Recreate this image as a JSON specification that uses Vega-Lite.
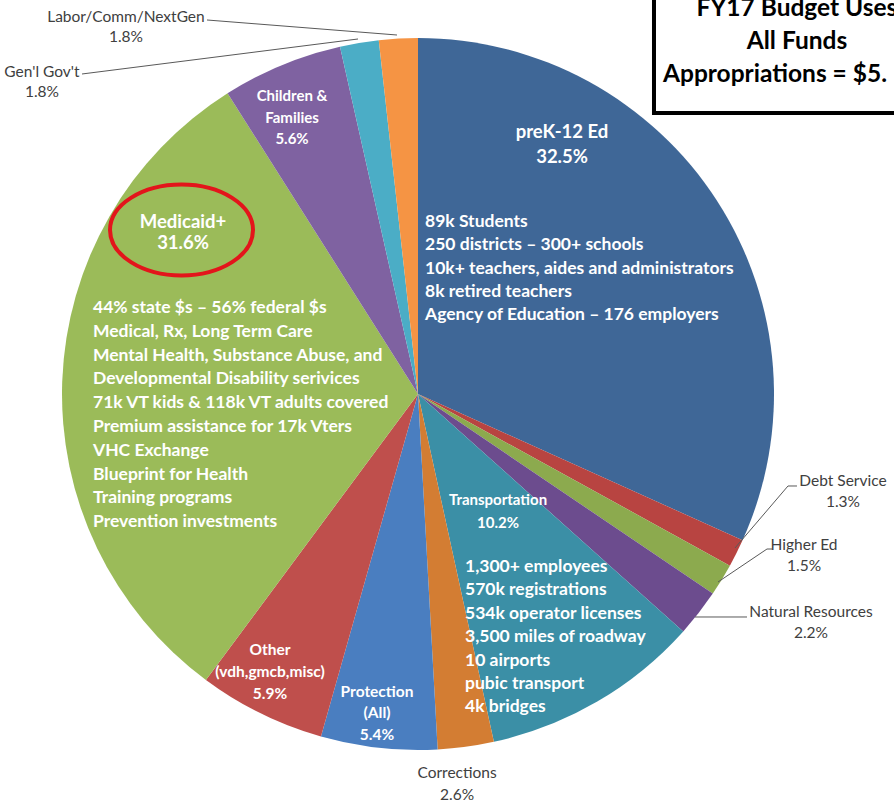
{
  "$schema": "https://vega.github.io/schema/vega-lite/v6.json",
  "width": 836,
  "height": 788,
  "autosize": {"type": "none"},
  "padding": {"left": 0, "top": 0, "right": 58, "bottom": 20},
  "background": "white",
  "config": {"view": {"stroke": null}},
  "layer": [
    {
      "data": {"values": [
        {"item": "preK-12 Ed", "pct": 32.5, "label": "preK-12 Ed\n32.5%", "detail": "89k Students\n250 districts – 300+ schools\n10k+ teachers, aides and administrators\n8k retired teachers\nAgency of Education – 176 employers"},
        {"item": "Debt Service", "pct": 1.3, "label": "Debt Service\n1.3%"},
        {"item": "Higher Ed", "pct": 1.5, "label": "Higher Ed\n1.5%"},
        {"item": "Natural Resources", "pct": 2.2, "label": "Natural Resources\n2.2%"},
        {"item": "Transportation", "pct": 10.2, "label": "Transportation\n10.2%", "detail": "1,300+ employees\n570k registrations\n534k operator licenses\n3,500 miles of roadway\n10 airports\npubic transport\n4k bridges"},
        {"item": "Corrections", "pct": 2.6, "label": "Corrections\n2.6%"},
        {"item": "Protection", "pct": 5.4, "label": "Protection\n(All)\n5.4%"},
        {"item": "Other", "pct": 5.9, "label": "Other\n(vdh,gmcb,misc)\n5.9%"},
        {"item": "Medicaid+", "pct": 31.6, "label": "Medicaid+\n31.6%", "detail": "44% state $s – 56% federal $s\nMedical, Rx, Long Term Care\nMental Health, Substance Abuse, and\nDevelopmental Disability serivices\n71k VT kids & 118k VT adults covered\nPremium assistance for 17k Vters\nVHC Exchange\nBlueprint for Health\nTraining programs\nPrevention investments"},
        {"item": "Children & Families", "pct": 5.6, "label": "Children &\nFamilies\n5.6%"},
        {"item": "Gen'l Gov't", "pct": 1.8, "label": "Gen'l Gov't\n1.8%"},
        {"item": "Labor/Comm/NextGen", "pct": 1.8, "label": "Labor/Comm/NextGen\n1.8%"}
      ]},
      "transform": [{"window": [{"op": "row_number", "as": "rank"}]}],
      "encoding": {
        "theta": {"field": "pct", "type": "quantitative", "stack": true},
        "order": {"field": "rank", "type": "quantitative"},
        "detail": {"field": "item", "type": "nominal"}
      },
      "layer": [
        {
          "mark": {"type": "arc", "outerRadius": 356, "stroke": null},
          "encoding": {
            "color": {"field": "item", "type": "nominal", "legend": null,
              "scale": {
                "domain": ["preK-12 Ed", "Debt Service", "Higher Ed", "Natural Resources", "Transportation", "Corrections", "Protection", "Other", "Medicaid+", "Children & Families", "Gen'l Gov't", "Labor/Comm/NextGen"],
                "range": ["#3F6797", "#B84441", "#8CAA4E", "#6C4C8E", "#3B8FA6", "#D37D33", "#4A7EC0", "#BF4F4C", "#9BBB59", "#7F62A1", "#4BADC6", "#F59444"]
              }}
          }
        },
        {
          "mark": {"type": "text", "radius": 299.0, "thetaOffset": -0.4945, "font": "Lato", "fontWeight": "bold", "fontSize": 18.5, "color": "#FFFFFF", "lineBreak": "\n", "lineHeight": 25, "align": "center", "baseline": "middle"},
          "encoding": {"text": {"condition": {"test": "datum.item === 'preK-12 Ed'", "field": "label"}, "value": ""}}
        },
        {
          "mark": {"type": "text", "radius": 172.1, "thetaOffset": -0.9564, "font": "Lato", "fontWeight": "bold", "fontSize": 17.5, "color": "#FFFFFF", "lineBreak": "\n", "lineHeight": 23.3, "align": "left", "baseline": "middle"},
          "encoding": {"text": {"condition": {"test": "datum.item === 'preK-12 Ed'", "field": "detail"}, "value": ""}}
        },
        {
          "mark": {"type": "text", "radius": 323.5, "thetaOffset": -0.0073, "font": "Lato", "fontWeight": "bold", "fontSize": 15, "color": "#FFFFFF", "lineBreak": "\n", "lineHeight": 21.5, "align": "center", "baseline": "middle"},
          "encoding": {"text": {"condition": {"test": "datum.item === 'Children & Families'", "field": "label"}, "value": ""}}
        },
        {
          "mark": {"type": "text", "radius": 291.2, "thetaOffset": 0.5950, "font": "Lato", "fontWeight": "bold", "fontSize": 18.5, "color": "#FFFFFF", "lineBreak": "\n", "lineHeight": 21, "align": "center", "baseline": "middle"},
          "encoding": {"text": {"condition": {"test": "datum.item === 'Medicaid+'", "field": "label"}, "value": ""}}
        },
        {
          "mark": {"type": "text", "radius": 336.2, "thetaOffset": 0.2218, "font": "Lato", "fontWeight": "bold", "fontSize": 17.5, "color": "#FFFFFF", "lineBreak": "\n", "lineHeight": 23.8, "align": "left", "baseline": "middle"},
          "encoding": {"text": {"condition": {"test": "datum.item === 'Medicaid+'", "field": "detail"}, "value": ""}}
        },
        {
          "mark": {"type": "text", "radius": 132.8, "thetaOffset": -0.1188, "font": "Lato", "fontWeight": "bold", "fontSize": 15, "color": "#FFFFFF", "lineBreak": "\n", "lineHeight": 23, "align": "center", "baseline": "middle"},
          "encoding": {"text": {"condition": {"test": "datum.item === 'Transportation'", "field": "label"}, "value": ""}}
        },
        {
          "mark": {"type": "text", "radius": 179.3, "thetaOffset": 0.2624, "font": "Lato", "fontWeight": "bold", "fontSize": 17.5, "color": "#FFFFFF", "lineBreak": "\n", "lineHeight": 23.4, "align": "left", "baseline": "middle"},
          "encoding": {"text": {"condition": {"test": "datum.item === 'Transportation'", "field": "detail"}, "value": ""}}
        },
        {
          "mark": {"type": "text", "radius": 295.7, "thetaOffset": 0.0670, "font": "Lato", "fontWeight": "bold", "fontSize": 15.5, "color": "#FFFFFF", "lineBreak": "\n", "lineHeight": 22, "align": "center", "baseline": "middle"},
          "encoding": {"text": {"condition": {"test": "datum.item === 'Other'", "field": "label"}, "value": ""}}
        },
        {
          "mark": {"type": "text", "radius": 300.8, "thetaOffset": 0.0262, "font": "Lato", "fontWeight": "bold", "fontSize": 15.5, "color": "#FFFFFF", "lineBreak": "\n", "lineHeight": 21.5, "align": "center", "baseline": "middle"},
          "encoding": {"text": {"condition": {"test": "datum.item === 'Protection'", "field": "label"}, "value": ""}}
        },
        {
          "mark": {"type": "text", "radius": 476.9, "thetaOffset": -0.6039, "font": "Lato", "fontSize": 15.5, "color": "#404040", "lineBreak": "\n", "lineHeight": 20, "align": "center", "baseline": "middle"},
          "encoding": {"text": {"condition": {"test": "datum.item === 'Labor/Comm/NextGen'", "field": "label"}, "value": ""}}
        },
        {
          "mark": {"type": "text", "radius": 495.0, "thetaOffset": -0.6971, "font": "Lato", "fontSize": 15.5, "color": "#404040", "lineBreak": "\n", "lineHeight": 20, "align": "center", "baseline": "middle"},
          "encoding": {"text": {"condition": {"test": "datum.item === \"Gen'l Gov't\"", "field": "label"}, "value": ""}}
        },
        {
          "mark": {"type": "text", "radius": 433.8, "thetaOffset": -0.2613, "font": "Lato", "fontSize": 15.5, "color": "#404040", "lineBreak": "\n", "lineHeight": 21, "align": "center", "baseline": "middle"},
          "encoding": {"text": {"condition": {"test": "datum.item === 'Debt Service'", "field": "label"}, "value": ""}}
        },
        {
          "mark": {"type": "text", "radius": 414.5, "thetaOffset": -0.1763, "font": "Lato", "fontSize": 15.5, "color": "#404040", "lineBreak": "\n", "lineHeight": 21, "align": "center", "baseline": "middle"},
          "encoding": {"text": {"condition": {"test": "datum.item === 'Higher Ed'", "field": "label"}, "value": ""}}
        },
        {
          "mark": {"type": "text", "radius": 449.4, "thetaOffset": -0.1562, "font": "Lato", "fontSize": 15.5, "color": "#404040", "lineBreak": "\n", "lineHeight": 21, "align": "center", "baseline": "middle"},
          "encoding": {"text": {"condition": {"test": "datum.item === 'Natural Resources'", "field": "label"}, "value": ""}}
        },
        {
          "mark": {"type": "text", "radius": 381.0, "thetaOffset": 0.0323, "font": "Lato", "fontSize": 15.5, "color": "#404040", "lineBreak": "\n", "lineHeight": 22, "align": "center", "baseline": "middle"},
          "encoding": {"text": {"condition": {"test": "datum.item === 'Corrections'", "field": "label"}, "value": ""}}
        }
      ]
    },
    {
      "data": {"values": [{}]},
      "encoding": {
        "x": {"datum": -0.5927, "type": "quantitative", "scale": {"domain": [-1.17416, 1.17416], "nice": false, "zero": false}, "axis": null},
        "y": {"datum": 1.0506, "type": "quantitative", "scale": {"domain": [-1.10674, 1.10674], "nice": false, "zero": false}, "axis": null},
        "x2": {"datum": -0.0590},
        "y2": {"datum": 1.0084}
      },
      "mark": {"type": "rule", "color": "#595959", "strokeWidth": 1}
    },
    {
      "data": {"values": [{}]},
      "encoding": {"x": {"datum": -0.9438, "type": "quantitative"}, "y": {"datum": 0.8989, "type": "quantitative"}, "x2": {"datum": -0.1685}, "y2": {"datum": 0.9972}},
      "mark": {"type": "rule", "color": "#595959", "strokeWidth": 1}
    },
    {
      "data": {"values": [{}]},
      "encoding": {"x": {"datum": 1.0646, "type": "quantitative"}, "y": {"datum": -0.2584, "type": "quantitative"}, "x2": {"datum": 1.0393}, "y2": {"datum": -0.2584}},
      "mark": {"type": "rule", "color": "#595959", "strokeWidth": 1}
    },
    {
      "data": {"values": [{}]},
      "encoding": {"x": {"datum": 1.0393, "type": "quantitative"}, "y": {"datum": -0.2584, "type": "quantitative"}, "x2": {"datum": 0.8904}, "y2": {"datum": -0.4326}},
      "mark": {"type": "rule", "color": "#595959", "strokeWidth": 1}
    },
    {
      "data": {"values": [{}]},
      "encoding": {"x": {"datum": 0.9944, "type": "quantitative"}, "y": {"datum": -0.4354, "type": "quantitative"}, "x2": {"datum": 0.9803}, "y2": {"datum": -0.4354}},
      "mark": {"type": "rule", "color": "#595959", "strokeWidth": 1}
    },
    {
      "data": {"values": [{}]},
      "encoding": {"x": {"datum": 0.9803, "type": "quantitative"}, "y": {"datum": -0.4354, "type": "quantitative"}, "x2": {"datum": 0.8427}, "y2": {"datum": -0.5281}},
      "mark": {"type": "rule", "color": "#595959", "strokeWidth": 1}
    },
    {
      "data": {"values": [{}]},
      "encoding": {"x": {"datum": 0.9242, "type": "quantitative"}, "y": {"datum": -0.6264, "type": "quantitative"}, "x2": {"datum": 0.7781}, "y2": {"datum": -0.6264}},
      "mark": {"type": "rule", "color": "#595959", "strokeWidth": 1}
    },
    {
      "data": {"values": [{}]},
      "encoding": {"x": {"datum": 0.6629, "type": "quantitative"}, "y": {"datum": 1.163, "type": "quantitative"}, "x2": {"datum": 1.41}, "y2": {"datum": 0.7893}},
      "mark": {"type": "rect", "fill": "#FFFFFF", "stroke": "#000000", "strokeWidth": 4}
    },
    {
      "data": {"values": [{}]},
      "encoding": {"x": {"datum": 1.0646, "type": "quantitative"}, "y": {"datum": 1.0815, "type": "quantitative"}, "text": {"value": "FY17 Budget Uses\nAll Funds"}},
      "mark": {"type": "text", "font": "Lato", "fontWeight": "bold", "fontSize": 24.5, "color": "#000000", "lineBreak": "\n", "lineHeight": 33, "align": "center", "baseline": "middle"}
    },
    {
      "data": {"values": [{}]},
      "encoding": {"x": {"datum": 0.6882, "type": "quantitative"}, "y": {"datum": 0.8961, "type": "quantitative"}, "text": {"value": "Appropriations = $5."}},
      "mark": {"type": "text", "font": "Lato", "fontWeight": "bold", "fontSize": 24.5, "color": "#000000", "align": "left", "baseline": "middle"}
    },
    {
      "data": {"values": [{}]},
      "encoding": {"x": {"datum": -0.6643, "type": "quantitative"}, "y": {"datum": 0.4607, "type": "quantitative"}},
      "mark": {"type": "point", "shape": "M -1 0 A 1 0.636 0 1 0 1 0 A 1 0.636 0 1 0 -1 0 Z", "size": 20449, "filled": false, "color": "#E3151B", "strokeWidth": 4, "opacity": 1}
    }
  ]
}
